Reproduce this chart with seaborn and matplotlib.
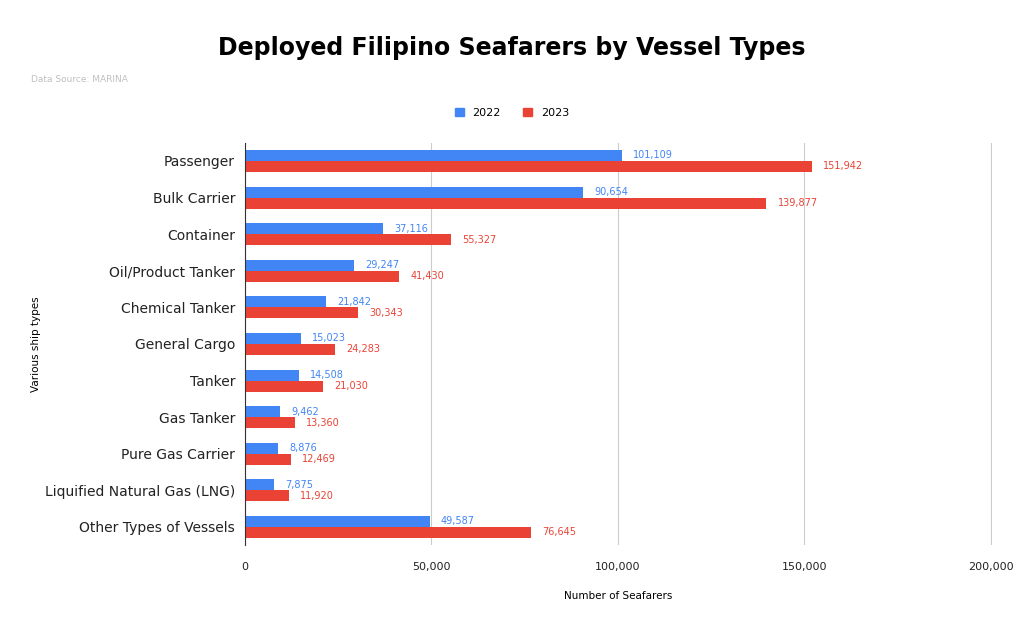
import pandas as pd
import matplotlib.pyplot as plt
import seaborn as sns
from matplotlib.ticker import FuncFormatter
from matplotlib.patches import Patch

categories = ["Passenger", "Bulk Carrier", "Container", "Oil/Product Tanker",
              "Chemical Tanker", "General Cargo", "Tanker", "Gas Tanker",
              "Pure Gas Carrier", "Liquified Natural Gas (LNG)", "Other Types of Vessels"]
values_2022 = [101109, 90654, 37116, 29247, 21842, 15023, 14508, 9462, 8876, 7875, 49587]
values_2023 = [151942, 139877, 55327, 41430, 30343, 24283, 21030, 13360, 12469, 11920, 76645]
years = ["2022", "2023"]
colors = ["#4285F4", "#EA4335"]

df = pd.DataFrame({
    "type": categories * 2,
    "value": values_2022 + values_2023,
    "year": [years[0]] * len(categories) + [years[1]] * len(categories),
})

fig = plt.figure(figsize=(10.24, 6.34), dpi=100)
ax = fig.add_axes([0.239, 0.140, 0.730, 0.635])
sns.barplot(data=df, y="type", x="value", hue="year", palette=colors,
            orient="h", width=0.6, ax=ax, legend=False, saturation=1)

for cont, col in zip(ax.containers, colors):
    ax.bar_label(cont, labels=[f"{v:,.0f}" for v in cont.datavalues],
                 padding=8, fontsize=7, color=col)

ax.set_xlim(0, 200400)
ax.set_xticks([0, 50000, 100000, 150000, 200000])
ax.xaxis.set_major_formatter(FuncFormatter(lambda v, p: f"{v:,.0f}"))
ax.grid(axis="x", color="#cccccc", linewidth=0.8)
ax.set_axisbelow(True)
for s in ["top", "right", "bottom"]:
    ax.spines[s].set_visible(False)
ax.spines["left"].set_color("#333333")
ax.tick_params(axis="both", length=0, colors="#222222")
ax.tick_params(axis="y", labelsize=10, pad=7)
ax.tick_params(axis="x", labelsize=8, pad=12)
ax.set_xlabel("Number of Seafarers", fontsize=7.5, labelpad=14)
ax.set_ylabel("Various ship types", fontsize=7.5)
ax.yaxis.set_label_coords(-0.272, 0.5)

fig.text(0.5, 0.925, "Deployed Filipino Seafarers by Vessel Types", ha="center",
         va="center", fontsize=17, fontweight="bold")
fig.text(0.03, 0.874, "Data Source: MARINA", fontsize=6.5, color="#c0c0c0", va="center")

handles = [Patch(color=c, label=y) for c, y in zip(colors, years)]
fig.legend(handles=handles, loc="center", bbox_to_anchor=(0.5, 0.822), ncol=2,
           frameon=False, fontsize=8, handlelength=0.8, handleheight=0.8, columnspacing=2)

fig.savefig("out.png", dpi=100, facecolor="white")
